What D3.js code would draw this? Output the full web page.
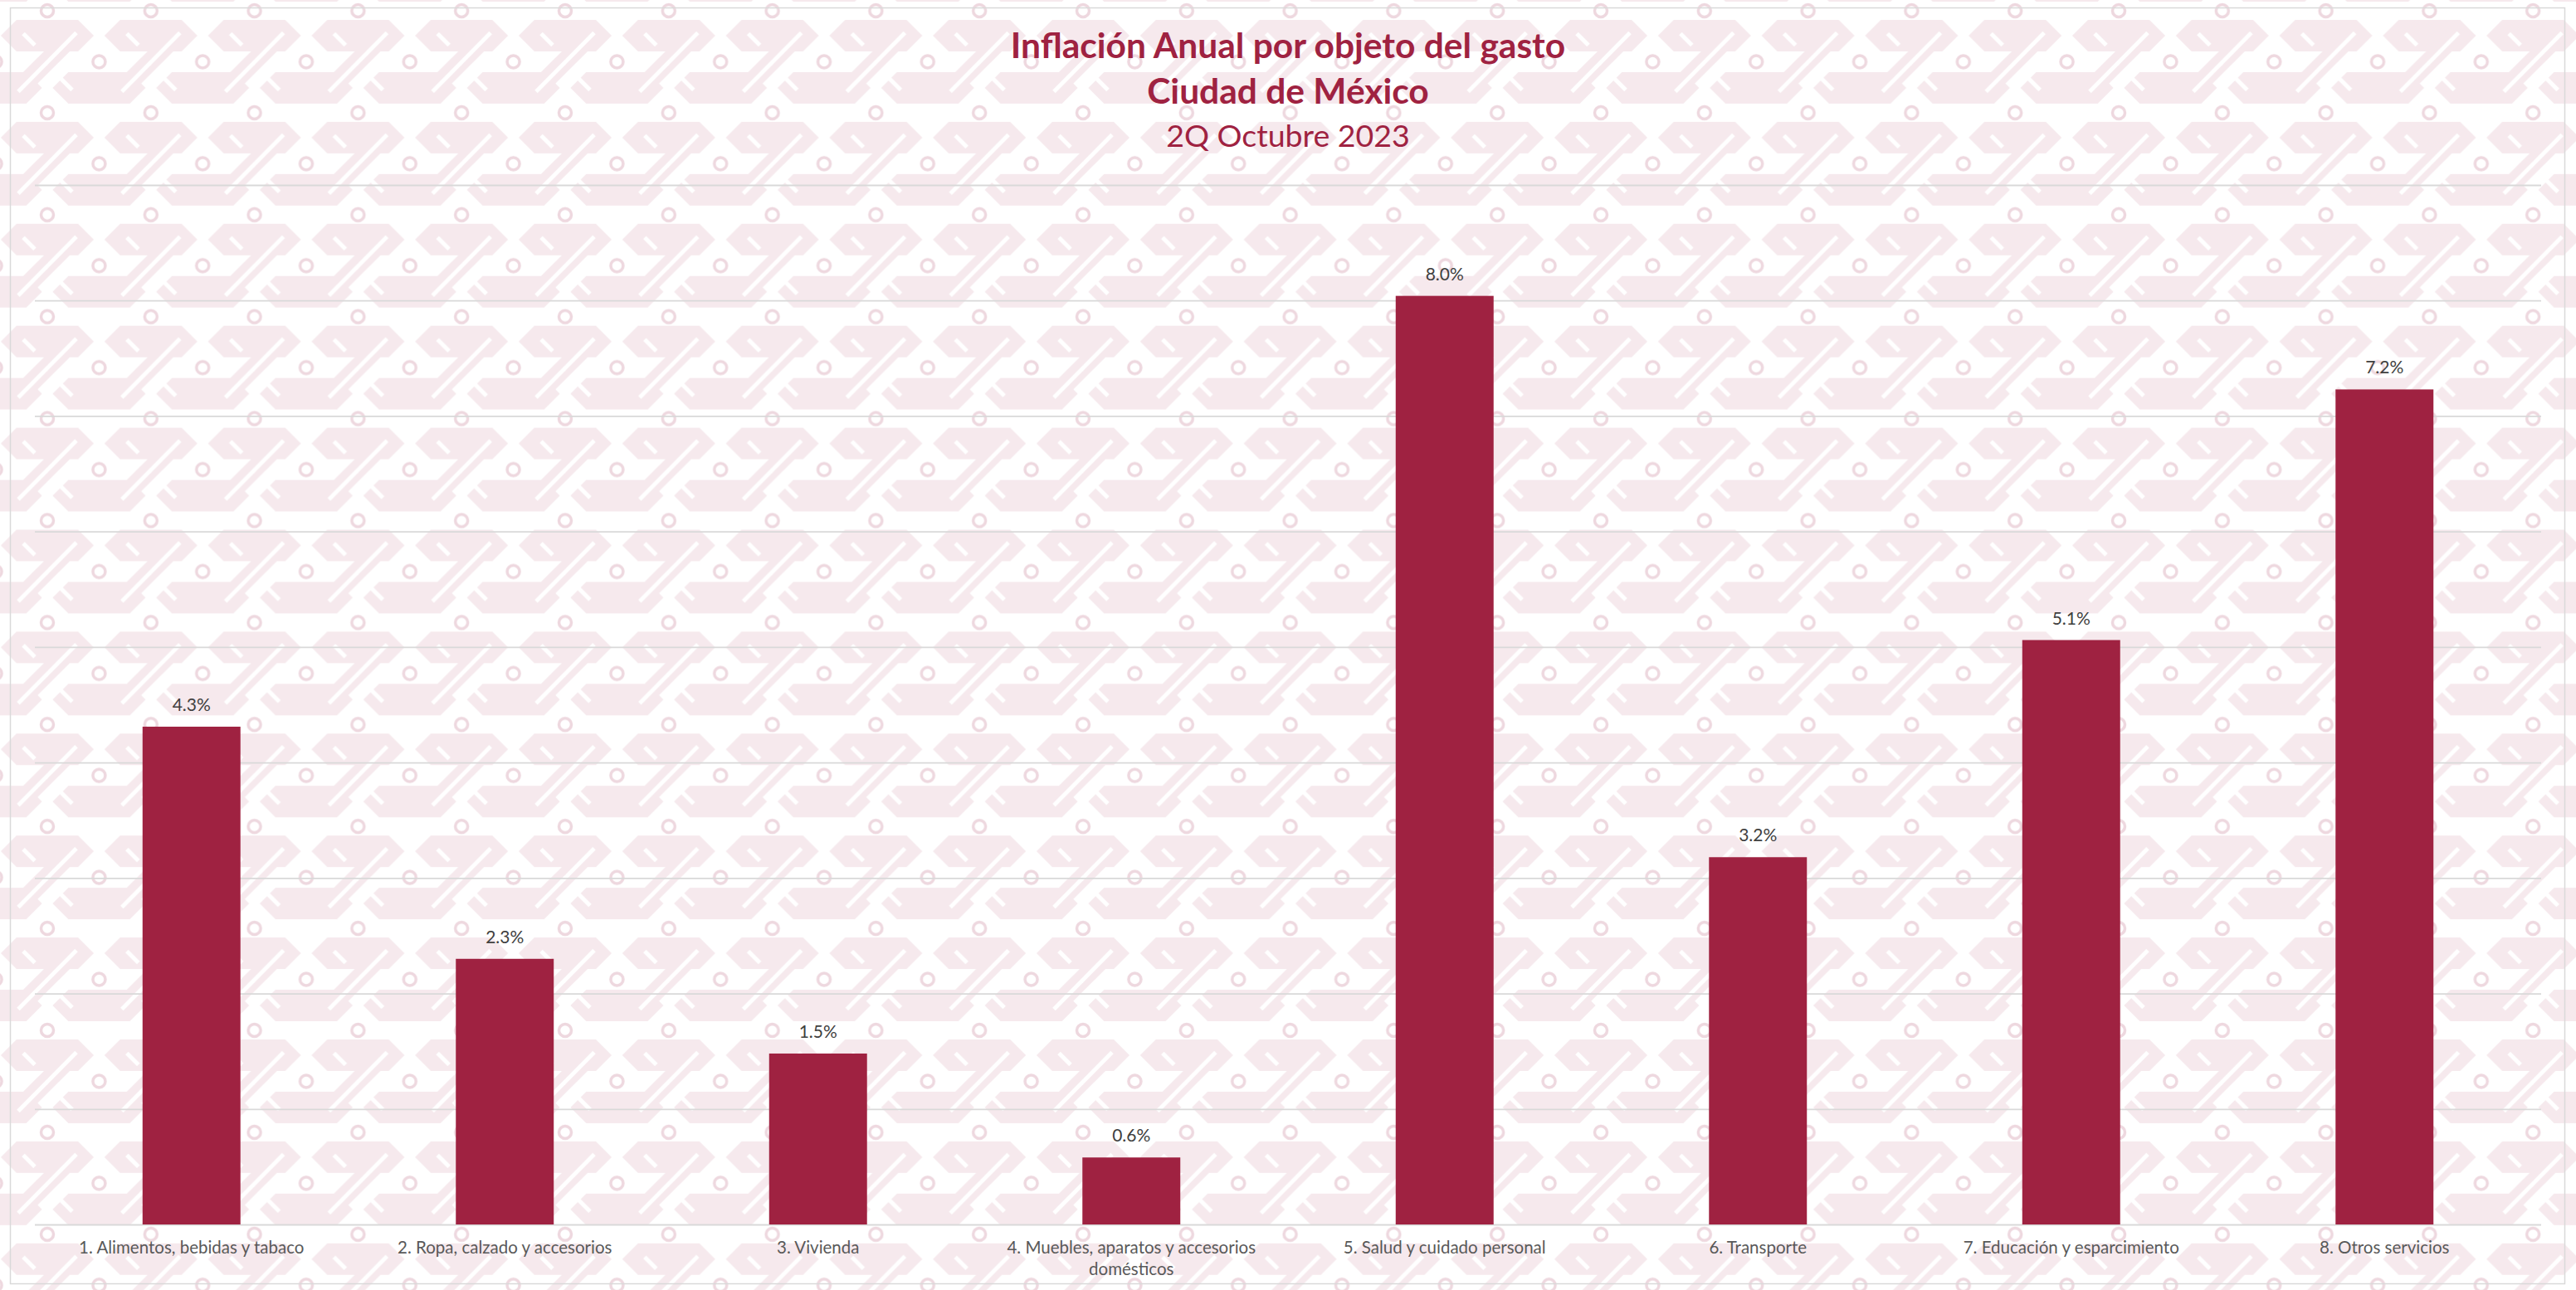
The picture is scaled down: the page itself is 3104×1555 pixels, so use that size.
<!DOCTYPE html>
<html>
<head>
<meta charset="utf-8">
<script src="https://cdn.jsdelivr.net/npm/d3@7/dist/d3.min.js"></script>
<style>
  html, body { margin: 0; padding: 0; background: #ffffff; }
  svg { display: block; }
</style>
</head>
<body>
<svg id="chart" width="3104" height="1555"></svg>
<script>
// ---- Data ----
const categories = [
  "1. Alimentos, bebidas y tabaco",
  "2. Ropa, calzado y accesorios",
  "3. Vivienda",
  "4. Muebles, aparatos y accesorios domésticos",
  "5. Salud y cuidado personal",
  "6. Transporte",
  "7. Educación y esparcimiento",
  "8. Otros servicios"
];
const values = [4.31, 2.30, 1.48, 0.58, 8.04, 3.18, 5.06, 7.23];
const yTicks = [0, 1, 2, 3, 4, 5, 6, 7, 8, 9];
const titleLines = ["Inflación Anual por objeto del gasto", "Ciudad de México", "2Q Octubre 2023"];

// ---- Layout ----
const W = 3104, H = 1555;
const plot = { left: 42, right: 3062, top: 223, bottom: 1476 };
const barColor = "#9f2241";
const fontFamily = "Lato, 'Open Sans', sans-serif";

const svg = d3.select("#chart");

// Background pattern (decorative fret motif)
const defs = svg.append("defs");
const pw = 124.8, ph = 122.9;
const pat = defs.append("pattern")
  .attr("id", "bgpat")
  .attr("patternUnits", "userSpaceOnUse")
  .attr("x", 57).attr("y", 13)
  .attr("width", pw).attr("height", ph);
pat.append("rect").attr("width", pw).attr("height", ph).attr("fill", "#ffffff");
const pink = "#f6e9ed";
const hx = pw / 2, hy = ph / 2;
function plate(cx, top, bot) {
  const mid = (top + bot) / 2, h = (bot - top) / 2;
  return `M ${cx - 56},${mid} L ${cx - 56 + h},${top} L ${cx + 56 - h},${top} L ${cx + 56},${mid} L ${cx + 56 - h},${bot} L ${cx - 56 + h},${bot} Z`;
}
// plates
[0, pw].forEach(cx => pat.append("path").attr("d", plate(cx, 11, 49)).attr("fill", pink));
pat.append("path").attr("d", plate(hx, 74, 112)).attr("fill", pink);
// connectors + white cuts around each cut centre
[0, pw].forEach(cx => {
  const g = pat.append("g").attr("transform", `translate(${cx},${hy})`);
  g.append("path").attr("d", "M -27,26 L 23,-24")
    .attr("stroke", pink).attr("stroke-width", 22).attr("fill", "none");
  g.append("path").attr("d", "M -35,36 L 35,-35")
    .attr("stroke", "#ffffff").attr("stroke-width", 5).attr("fill", "none");
  g.append("path").attr("d", "M -29,-34 L -15,-20")
    .attr("stroke", "#ffffff").attr("stroke-width", 5).attr("fill", "none");
  g.append("path").attr("d", "M 16,20 L 30,34")
    .attr("stroke", "#ffffff").attr("stroke-width", 5).attr("fill", "none");
});
// circles
const circlePts = [[0, 0], [pw, 0], [0, ph], [pw, ph], [hx, hy]];
circlePts.forEach(([cx, cy]) => {
  pat.append("circle").attr("cx", cx).attr("cy", cy).attr("r", 7.5)
    .attr("fill", "none").attr("stroke", "#eed8df").attr("stroke-width", 3.5);
});
svg.append("rect").attr("width", W).attr("height", H).attr("fill", "url(#bgpat)");

// Chart border
svg.append("rect")
  .attr("x", 12.5).attr("y", 9.5)
  .attr("width", 3078).attr("height", 1538)
  .attr("fill", "none").attr("stroke", "#d9d9d9").attr("stroke-width", 1.5);

// Scales
const x = d3.scaleBand()
  .domain(categories)
  .range([plot.left, plot.right])
  .paddingInner(0.6875)
  .paddingOuter(0.34375);
const y = d3.scaleLinear().domain([0, 9]).range([plot.bottom, plot.top]);

// Gridlines via axis
const yAxis = d3.axisLeft(y).tickValues(yTicks)
  .tickSize(-(plot.right - plot.left)).tickFormat("");
const gy = svg.append("g")
  .attr("transform", `translate(${plot.left},0)`)
  .call(yAxis);
gy.select(".domain").remove();
gy.selectAll(".tick line").attr("stroke", "#d9d9d9").attr("stroke-width", 1.8);

// Bars
svg.append("g").selectAll("rect")
  .data(values)
  .join("rect")
  .attr("x", (d, i) => x(categories[i]))
  .attr("y", d => y(d))
  .attr("width", x.bandwidth())
  .attr("height", d => y(0) - y(d))
  .attr("fill", barColor);

// Data labels
svg.append("g").selectAll("text")
  .data(values)
  .join("text")
  .attr("x", (d, i) => x(categories[i]) + x.bandwidth() / 2)
  .attr("y", d => y(d) - 19)
  .attr("text-anchor", "middle")
  .attr("font-family", fontFamily)
  .attr("font-size", 21)
  .attr("fill", "#404040")
  .text(d => d.toFixed(1) + "%");

// X axis labels
const xAxis = d3.axisBottom(x).tickSize(0).tickPadding(0);
const gx = svg.append("g")
  .attr("transform", `translate(0,${plot.bottom})`)
  .call(xAxis);
gx.select(".domain").remove();
gx.selectAll(".tick text")
  .attr("font-family", fontFamily)
  .attr("font-size", 20.5)
  .attr("fill", "#595959")
  .attr("dy", null)
  .attr("y", 35)
  .each(function(d) {
    const t = d3.select(this);
    const words = d.split(" ");
    t.text(null);
    let line = [];
    let lineNo = 0;
    let tspan = t.append("tspan").attr("x", 0).attr("y", 35);
    words.forEach(w => {
      line.push(w);
      tspan.text(line.join(" "));
      if (tspan.node().getComputedTextLength() > 330 && line.length > 1) {
        line.pop();
        tspan.text(line.join(" "));
        line = [w];
        lineNo++;
        tspan = t.append("tspan").attr("x", 0).attr("y", 35 + lineNo * 26).text(w);
      }
    });
  });

// Title
const titleG = svg.append("g").attr("font-family", fontFamily).attr("fill", barColor)
  .attr("text-anchor", "middle");
titleG.append("text").attr("x", 1552).attr("y", 70)
  .attr("font-size", 42.5).attr("font-weight", "bold").text(titleLines[0]);
titleG.append("text").attr("x", 1552).attr("y", 125)
  .attr("font-size", 42.5).attr("font-weight", "bold").text(titleLines[1]);
titleG.append("text").attr("x", 1552).attr("y", 177)
  .attr("font-size", 37.5).text(titleLines[2]);
</script>
</body>
</html>
